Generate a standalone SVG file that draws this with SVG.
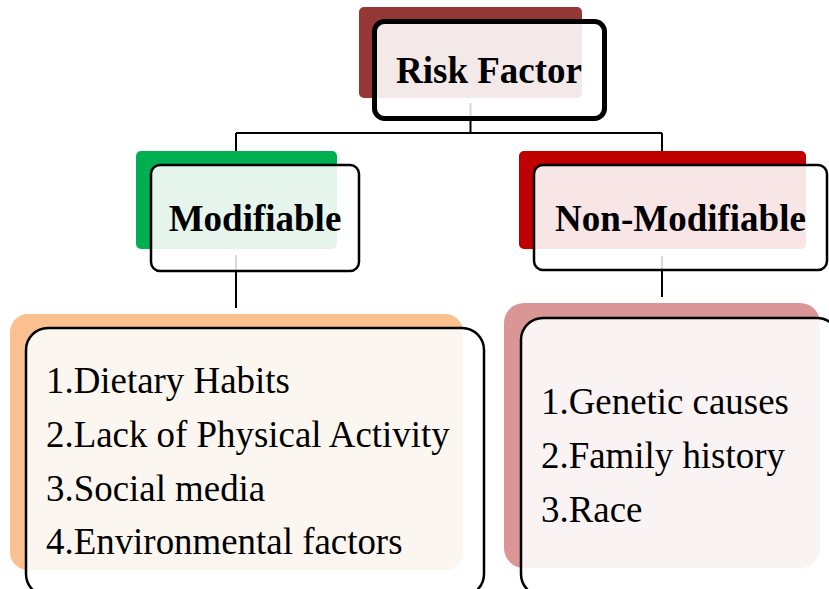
<svg xmlns="http://www.w3.org/2000/svg" width="829" height="589" viewBox="0 0 829 589">
<style>
.hdr{font-family:"Liberation Serif","Times New Roman",serif;font-weight:bold;font-size:37px;fill:#000;text-anchor:middle}
.item{font-family:"Liberation Serif","Times New Roman",serif;font-size:36.9px;fill:#000}
.frame{fill:none;stroke:#000;stroke-width:2.5}
.ghost{stroke:#D9D9D9;stroke-width:2}
.conn{stroke:#000;stroke-width:2;fill:none}
</style>
<defs>
<clipPath id="cRisk"><rect x="374.5" y="21.5" width="230" height="97" rx="10"/></clipPath>
<clipPath id="cMod"><rect x="151" y="165" width="208" height="106" rx="9"/></clipPath>
<clipPath id="cNon"><rect x="534" y="165" width="293" height="105" rx="9"/></clipPath>
<clipPath id="cLeft"><rect x="26" y="328" width="458" height="268" rx="22"/></clipPath>
<clipPath id="cRight"><rect x="521" y="318" width="318" height="278" rx="22"/></clipPath>
</defs>
<rect width="829" height="589" fill="#fff"/>
<g id="connectors">
<path class="conn" d="M236 133H662M470.5 119V133M236 133V152M662 133V152M236 271V308M662 270V297"/>
</g>
<g id="risk-factor">
<rect x="359" y="7" width="223" height="91" rx="5" fill="#953735"/>
<rect x="374.5" y="21.5" width="230" height="97" rx="10" fill="#fff"/>
<rect x="359" y="7" width="223" height="91" rx="5" fill="#F3E9E9" clip-path="url(#cRisk)"/>
<line class="ghost" x1="470.5" y1="103" x2="470.5" y2="117"/>
<rect x="374.5" y="21.5" width="230" height="97" rx="10" fill="none" stroke="#000" stroke-width="5"/>
<text class="hdr" x="489" y="82.5">Risk Factor</text>
</g>
<g id="modifiable">
<rect x="136" y="151" width="201" height="98" rx="5" fill="#00B050"/>
<rect x="151" y="165" width="208" height="106" rx="9" fill="#fff"/>
<rect x="136" y="151" width="201" height="98" rx="5" fill="#E5F5EB" clip-path="url(#cMod)"/>
<line class="ghost" x1="236" y1="255" x2="236" y2="270"/>
<rect class="frame" x="151" y="165" width="208" height="106" rx="9"/>
<text class="hdr" x="255" y="230.5">Modifiable</text>
</g>
<g id="non-modifiable">
<rect x="519" y="151" width="287" height="98" rx="5" fill="#C00000"/>
<rect x="534" y="165" width="293" height="105" rx="9" fill="#fff"/>
<rect x="519" y="151" width="287" height="98" rx="5" fill="#F8E5E5" clip-path="url(#cNon)"/>
<line class="ghost" x1="662" y1="256" x2="662" y2="269"/>
<rect class="frame" x="534" y="165" width="293" height="105" rx="9"/>
<text class="hdr" x="680.5" y="230.5">Non-Modifiable</text>
</g>
<g id="modifiable-list">
<rect x="10" y="314" width="453" height="256" rx="18" fill="#FAC090"/>
<rect x="26" y="328" width="458" height="268" rx="22" fill="#fff"/>
<rect x="10" y="314" width="453" height="256" rx="18" fill="#FBF6F0" clip-path="url(#cLeft)"/>
<rect class="frame" x="26" y="328" width="458" height="268" rx="22"/>
<text class="item" x="46" y="392.5">1.Dietary Habits</text>
<text class="item" x="46" y="446.5">2.Lack of Physical Activity</text>
<text class="item" x="46" y="500.5">3.Social media</text>
<text class="item" x="46" y="554">4.Environmental factors</text>
</g>
<g id="non-modifiable-list">
<rect x="504" y="303" width="316" height="265" rx="20" fill="#D99694"/>
<rect x="521" y="318" width="318" height="278" rx="22" fill="#fff"/>
<rect x="504" y="303" width="316" height="265" rx="20" fill="#F9F3F3" clip-path="url(#cRight)"/>
<rect class="frame" x="521" y="318" width="318" height="278" rx="22"/>
<text class="item" x="541" y="414">1.Genetic causes</text>
<text class="item" x="541" y="468">2.Family history</text>
<text class="item" x="541" y="521.5">3.Race</text>
</g>
</svg>
